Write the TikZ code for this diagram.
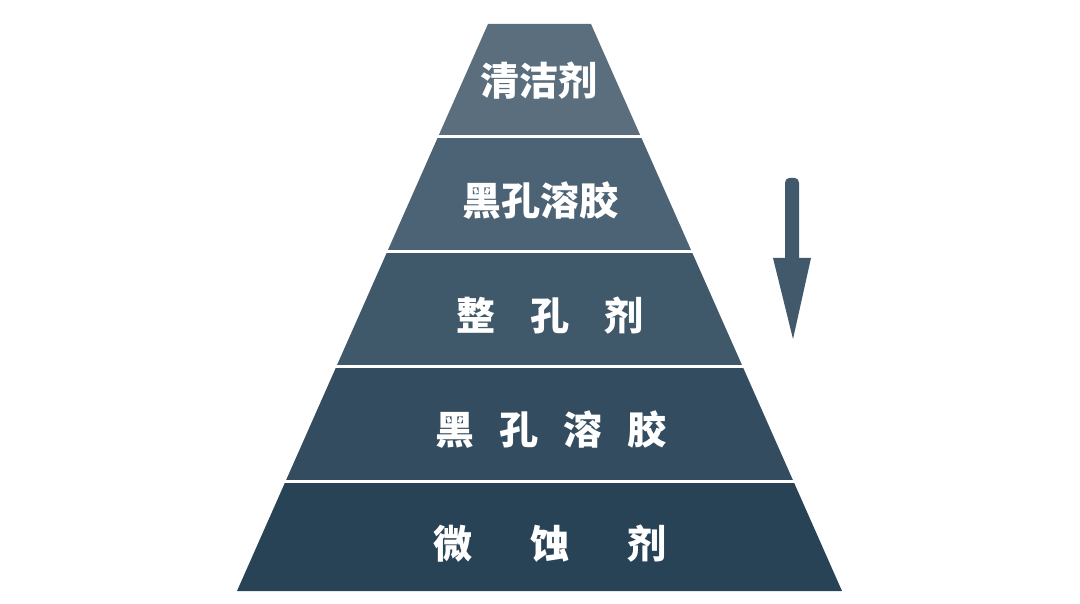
\documentclass[tikz,border=0pt]{standalone}
\usepackage{fontspec}
\newfontfamily\cjk{Noto Sans CJK SC}
\usetikzlibrary{calc}
\definecolor{bandA}{HTML}{5A6E7D}
\definecolor{bandB}{HTML}{4C6375}
\definecolor{bandC}{HTML}{3F586A}
\definecolor{bandD}{HTML}{334C5F}
\definecolor{bandE}{HTML}{284256}
\definecolor{arrowc}{HTML}{42596B}
\tikzset{
  lbl/.style={text=white, font=\cjk\bfseries\fontsize{39}{42}\selectfont, inner sep=0pt, anchor=center},
}
\begin{document}
\begin{tikzpicture}[x=1pt,y=-1pt]
\useasboundingbox (0,0) rectangle (1080,604);
\fill[white] (0,0) rectangle (1080,604);
\coordinate (TL) at (488,24);
\coordinate (TR) at (591,24);
\coordinate (BL) at (237,591);
\coordinate (BR) at (842,591);
% band boundaries: t = (y-24)/567
\newcommand{\band}[3]{%
  \fill[#3] ($(TL)!#1!(BL)$) -- ($(TR)!#1!(BR)$) -- ($(TR)!#2!(BR)$) -- ($(TL)!#2!(BL)$) -- cycle;}
\band{0}{0.19577}{bandA}
\band{0.20106}{0.39859}{bandB}
\band{0.40388}{0.60141}{bandC}
\band{0.60670}{0.80423}{bandD}
\band{0.80952}{1}{bandE}
\node[lbl] (l1) at (539,81) {清洁剂};
\node[lbl] (l2) at (540,201) {黑孔溶胶};
\node[lbl] (l3) at (550,316) {整\hspace{35pt}孔\hspace{35pt}剂};
\node[lbl] (l4) at (551,430) {黑\hspace{25pt}孔\hspace{25pt}溶\hspace{25pt}胶};
\node[lbl] (l5) at (550,544) {微\hspace{58pt}蚀\hspace{58pt}剂};
% arrow
\fill[arrowc] (785,258) -- (785,183) to[out=90,in=180] (789,178) -- (795,178) to[out=0,in=90] (799,183) -- (799,258) -- (811,258) -- (793,339) -- (773,258) -- cycle;
\end{tikzpicture}
\end{document}
